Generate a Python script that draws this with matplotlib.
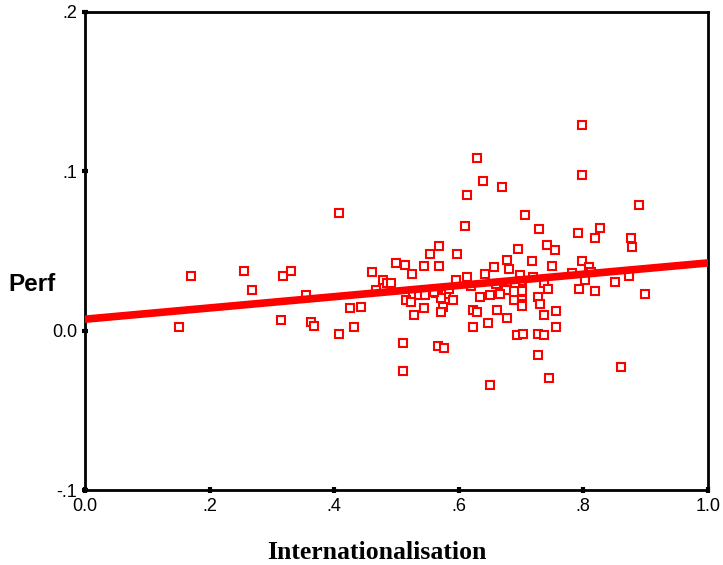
import numpy as np
import matplotlib
matplotlib.use("Agg")
from matplotlib import pyplot as plt

# values
intern = [0.170, 0.151, 0.255, 0.268, 0.318, 0.330, 0.314, 0.355, 0.363, 0.368,
          0.407, 0.408, 0.629, 0.639, 0.670, 0.613, 0.706, 0.610, 0.569, 0.554,
          0.597, 0.696, 0.678, 0.500, 0.513, 0.544, 0.569, 0.656, 0.681, 0.461,
          0.525, 0.643, 0.613, 0.698, 0.479, 0.595, 0.485, 0.491, 0.468, 0.676,
          0.701, 0.701, 0.527, 0.536, 0.546, 0.564, 0.579, 0.516, 0.523, 0.571,
          0.591, 0.634, 0.651, 0.667, 0.689, 0.702, 0.702, 0.702, 0.575, 0.425,
          0.443, 0.544, 0.571, 0.529, 0.623, 0.629, 0.662, 0.647, 0.678, 0.623,
          0.432, 0.693, 0.704, 0.510, 0.567, 0.577, 0.510, 0.650, 0.798, 0.798,
          0.889, 0.729, 0.791, 0.827, 0.819, 0.876, 0.879, 0.742, 0.754, 0.717,
          0.750, 0.798, 0.809, 0.782, 0.812, 0.802, 0.719, 0.737, 0.744, 0.793,
          0.819, 0.851, 0.873, 0.899, 0.700, 0.727, 0.731, 0.737, 0.757, 0.757,
          0.727, 0.737, 0.727, 0.745, 0.860, 0.585, 0.560, 0.620, 0.660, 0.690]
perf = [0.0340, 0.0020, 0.0374, 0.0253, 0.0343, 0.0374, 0.0070, 0.0223, 0.0053, 0.0032,
        -0.0020, 0.0740, 0.1085, 0.0940, 0.0900, 0.0853, 0.0725, 0.0660, 0.0534, 0.0483,
        0.0483, 0.0515, 0.0444, 0.0425, 0.0414, 0.0404, 0.0404, 0.0398, 0.0385, 0.0366,
        0.0353, 0.0353, 0.0335, 0.0347, 0.0320, 0.0316, 0.0299, 0.0299, 0.0253, 0.0253,
        0.0273, 0.0248, 0.0223, 0.0227, 0.0227, 0.0238, 0.0231, 0.0190, 0.0180, 0.0206,
        0.0190, 0.0212, 0.0223, 0.0231, 0.0190, 0.0190, 0.0168, 0.0152, 0.0150, 0.0141,
        0.0150, 0.0141, 0.0120, 0.0101, 0.0130, 0.0120, 0.0130, 0.0051, 0.0080, 0.0021,
        0.0021, -0.0030, -0.0020, -0.0080, -0.0098, -0.0109, -0.0250, -0.0338, 0.1290, 0.0980,
        0.0790, 0.0635, 0.0614, 0.0645, 0.0582, 0.0582, 0.0525, 0.0536, 0.0505, 0.0435,
        0.0406, 0.0435, 0.0400, 0.0364, 0.0370, 0.0318, 0.0338, 0.0297, 0.0259, 0.0259,
        0.0250, 0.0307, 0.0343, 0.0230, 0.0310, 0.0212, 0.0170, 0.0101, 0.0122, 0.0020,
        -0.0020, -0.0030, -0.0150, -0.0300, -0.0229, 0.0260, 0.0240, 0.0280, 0.0290, 0.0300]

# fitted line
fit_intercept = 0.0072
fit_slope = 0.0353

x_ticks = [0.0, 0.2, 0.4, 0.6, 0.8, 1.0]
x_labels = ['0.0', '.2', '.4', '.6', '.8', '1.0']
y_ticks = [-0.1, 0.0, 0.1, 0.2]
y_labels = ['-.1', '0.0', '.1', '.2']

fig = plt.figure(figsize=(7.23, 5.65), dpi=100)
ax = fig.add_axes([0.1176, 0.1327, 0.8614, 0.8461])

ax.plot(intern, perf, linestyle='none', marker='s', markersize=5.5,
        markerfacecolor='white', markeredgecolor='red', markeredgewidth=1.5,
        zorder=2)

fx = np.array([0.0, 1.0])
ax.plot(fx, fit_intercept + fit_slope * fx, color='red', linewidth=5.5,
        solid_capstyle='round', zorder=3)

ax.set_xlim(0, 1)
ax.set_ylim(-0.1, 0.2)
ax.set_xticks(x_ticks, x_labels, fontfamily='Liberation Sans', fontsize=13)
ax.set_yticks(y_ticks, y_labels, fontfamily='Liberation Sans', fontsize=13)
ax.tick_params(direction='inout', length=5, width=3, color='black', pad=3)
for s in ax.spines.values():
    s.set_linewidth(2)
    s.set_color('black')

fig.text(0.5208, 0.0106, 'Internationalisation', ha='center', va='baseline',
         fontfamily='Liberation Serif', fontweight='bold', fontsize=18.5)
fig.text(0.011, 0.485, 'Perf', ha='left', va='baseline',
         fontfamily='Liberation Sans', fontweight='bold', fontsize=17.5)

fig.savefig('out.png', dpi=100)
